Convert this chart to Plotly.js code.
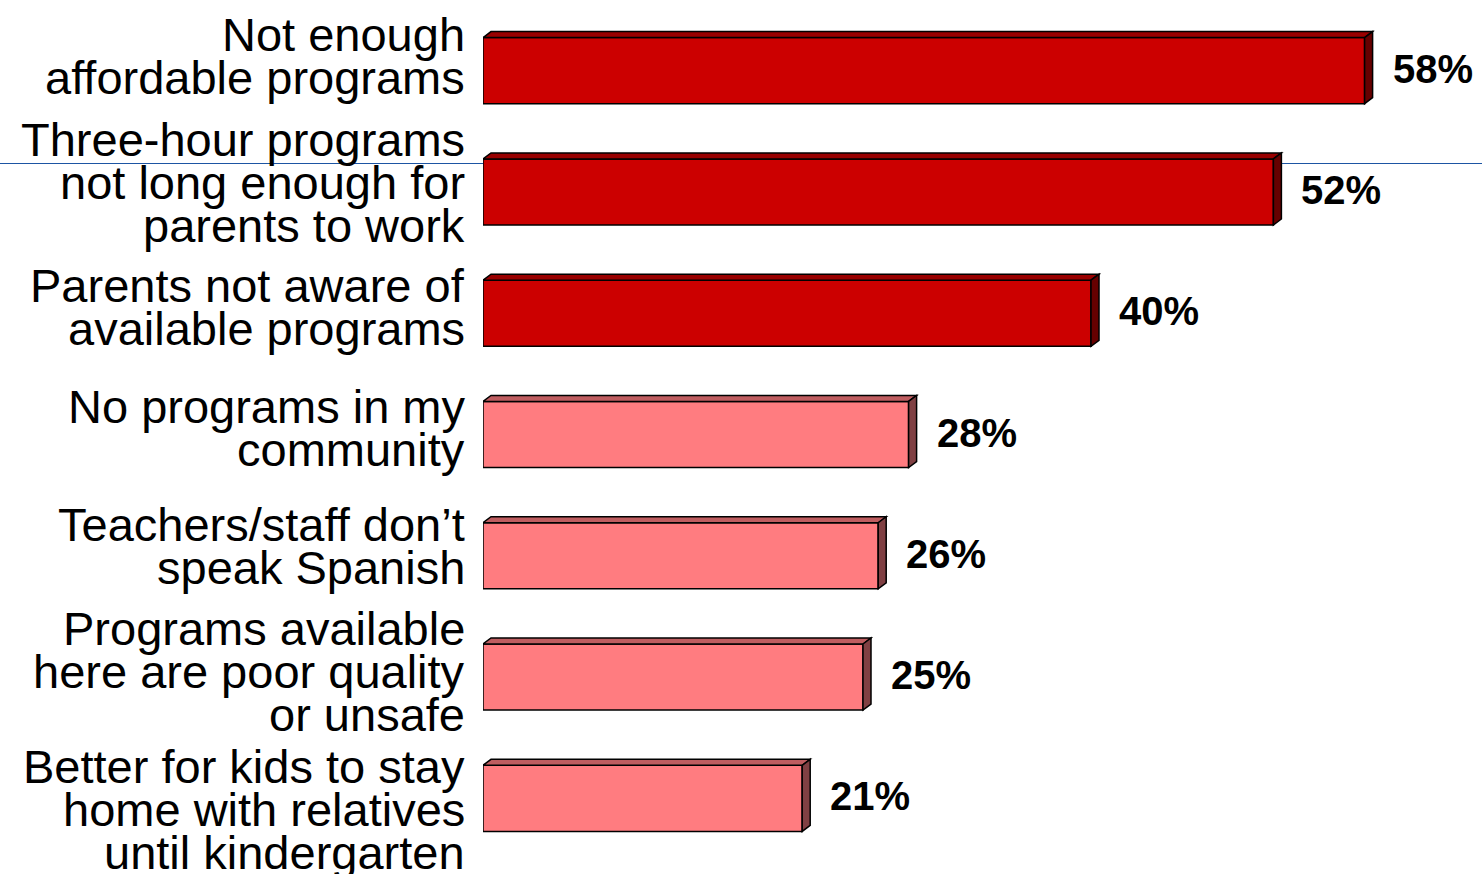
<!DOCTYPE html>
<html>
<head>
<meta charset="utf-8">
<script src="https://cdn.plot.ly/plotly-3.0.1.min.js"></script>
<style>html,body{margin:0;padding:0;background:#fff;}#chart{width:1482px;height:874px;}</style>
</head>
<body>
<div id="chart"></div>
<script>
// ---- data ----
const categories = [
  "Not enough<br>affordable programs",
  "Three-hour programs<br>not long enough for<br>parents to work",
  "Parents not aware of<br>available programs",
  "No programs in my<br>community",
  "Teachers/staff don’t<br>speak Spanish",
  "Programs available<br>here are poor quality<br>or unsafe",
  "Better for kids to stay<br>home with relatives<br>until kindergarten"
];
const values = [58, 52, 40, 28, 26, 25, 21];
const valueLabels = ["58%", "52%", "40%", "28%", "26%", "25%", "21%"];
const highlight = [true, true, true, false, false, false, false];

// ---- layout / style ----
const W = 1482, H = 874;
const M = {l: 483, r: 11, t: 10, b: 15};
const XMAX = 65;
const plotW = W - M.l - M.r, plotH = H - M.t - M.b;
const pxPerX = plotW / XMAX;
const pxPerY = plotH / categories.length;
const BARW = 0.545;
const DEPTH_X = 8 / pxPerX, DEPTH_Y = 6 / pxPerY;
const LINE_H = 43;
const labelShift = [-15, -9, -6, -7, -10, -6, 11]; // block centre offset vs bar centre (px, down)
const dark = {front: "#cc0000", top: "#990000", side: "#660000"};
const light = {front: "#ff7c80", top: "#bf5d60", side: "#804043"};
const FONT = "'Liberation Sans', Arial, Helvetica, sans-serif";

const yPos = categories.map((_, i) => i);
const pal = highlight.map(h => h ? dark : light);

const trace = {
  type: "bar",
  orientation: "h",
  x: values,
  y: yPos,
  width: BARW,
  marker: {color: pal.map(p => p.front), line: {color: "#000", width: 1.5}},
  hoverinfo: "skip"
};

const shapes = [];
// blue divider line behind everything
const lineY = 1 - (163.5 - M.t) / plotH;
shapes.push({type: "line", xref: "paper", yref: "paper", layer: "below",
  x0: -M.l / plotW, x1: (W - M.l) / plotW, y0: lineY, y1: lineY,
  line: {color: "#1d55a3", width: 1}});

values.forEach((v, i) => {
  const yt = i - BARW / 2, yb = i + BARW / 2;
  shapes.push({type: "path", xref: "x", yref: "y", layer: "above",
    path: `M 0,${yt} L ${DEPTH_X},${yt - DEPTH_Y} L ${v + DEPTH_X},${yt - DEPTH_Y} L ${v},${yt} Z`,
    fillcolor: pal[i].top, line: {color: "#000", width: 1.5}});
  shapes.push({type: "path", xref: "x", yref: "y", layer: "above",
    path: `M ${v},${yt} L ${v + DEPTH_X},${yt - DEPTH_Y} L ${v + DEPTH_X},${yb - DEPTH_Y} L ${v},${yb} Z`,
    fillcolor: pal[i].side, line: {color: "#000", width: 1.5}});
});

const annotations = [];
categories.forEach((c, i) => {
  const lines = c.split("<br>");
  const n = lines.length;
  lines.forEach((t, k) => {
    const off = labelShift[i] + (k - (n - 1) / 2) * LINE_H;
    annotations.push({xref: "paper", yref: "y", x: 0, y: i, xanchor: "right", yanchor: "middle",
      xshift: -16, yshift: -off, text: t, showarrow: false,
      font: {family: FONT, size: 47, color: "#000"}});
  });
});
values.forEach((v, i) => {
  annotations.push({xref: "x", yref: "y", x: v, y: i, xanchor: "left", yanchor: "middle",
    xshift: 26, yshift: 2, text: "<b>" + valueLabels[i] + "</b>", showarrow: false,
    font: {family: FONT, size: 40, color: "#000"}});
});

const layout = {
  width: W, height: H,
  margin: M,
  paper_bgcolor: "#fff",
  plot_bgcolor: "rgba(0,0,0,0)",
  showlegend: false,
  font: {family: FONT},
  xaxis: {range: [0, XMAX], visible: false, showgrid: false, zeroline: false, fixedrange: true},
  yaxis: {range: [categories.length - 0.5, -0.5], visible: false, showgrid: false, zeroline: false, fixedrange: true},
  shapes: shapes,
  annotations: annotations
};

Plotly.newPlot("chart", [trace], layout, {displayModeBar: false, staticPlot: true});
</script>
</body>
</html>
